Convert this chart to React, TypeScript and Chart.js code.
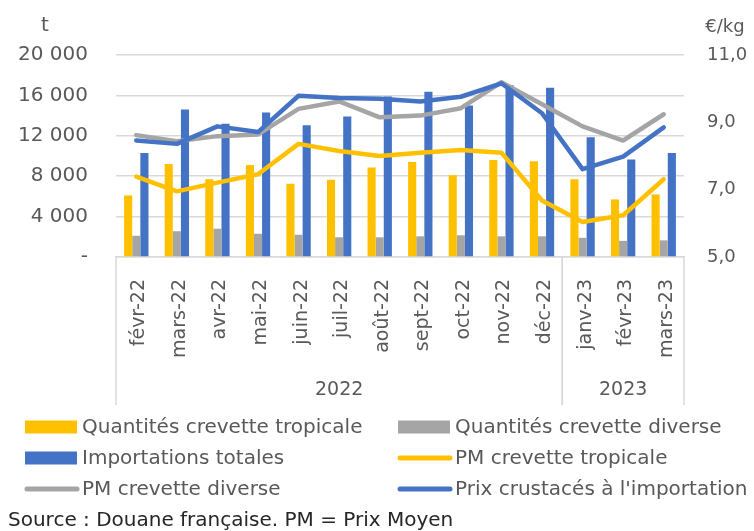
import React, { useEffect, useRef } from "react";
import { Chart, registerables } from "chart.js";

Chart.register(...registerables);

const months = ["févr-22", "mars-22", "avr-22", "mai-22", "juin-22", "juil-22", "août-22", "sept-22", "oct-22", "nov-22", "déc-22", "janv-23", "févr-23", "mars-23"];
const yearLabels = ["2022", "2023"];
const yearFirstIndex = [0, 11];
const yearLastIndex = [10, 13];

const qtyTropicale = [6100, 9200, 7700, 9100, 7250, 7650, 8850, 9400, 8100, 9600, 9480, 7700, 5700, 6200];
const qtyDiverse = [2100, 2550, 2800, 2300, 2200, 1950, 1950, 2050, 2150, 2050, 2050, 1900, 1600, 1650];
const importTotal = [10300, 14600, 13200, 14300, 13050, 13900, 15900, 16350, 15000, 17000, 16750, 11850, 9650, 10300];
const pmTropicale = [7.39, 6.95, 7.21, 7.46, 8.36, 8.15, 8.0, 8.1, 8.18, 8.1, 6.68, 6.04, 6.24, 7.31];
const pmDiverse = [8.62, 8.44, 8.59, 8.64, 9.4, 9.62, 9.15, 9.2, 9.42, 10.19, 9.54, 8.88, 8.46, 9.24];
const prixCrustaces = [8.46, 8.36, 8.88, 8.71, 9.79, 9.72, 9.7, 9.62, 9.76, 10.16, 9.27, 7.61, 7.98, 8.85];

const leftTitle = "t";
const rightTitle = "€/kg";
const sourceText = "Source : Douane française. PM = Prix Moyen";

const YELLOW = "#FFC000";
const GREY = "#A5A5A5";
const BLUE = "#4472C4";
const TEXT = "#595959";
const GRID = "#D9D9D9";
const FONT = '"DejaVu Sans"';

const legendOrder = [
  "Quantités crevette tropicale",
  "Quantités crevette diverse",
  "Importations totales",
  "PM crevette tropicale",
  "PM crevette diverse",
  "Prix crustacés à l'importation",
];

const extrasPlugin = {
  id: "extras",
  afterDraw(chart: any) {
    const ctx = chart.ctx as CanvasRenderingContext2D;
    const { left, right, bottom } = chart.chartArea;
    const x = chart.scales.x;
    ctx.save();
    const divBottom = 405;
    ctx.strokeStyle = GRID;
    ctx.lineWidth = 1.5;
    ctx.fillStyle = TEXT;
    ctx.font = `19px ${FONT}`;
    ctx.textAlign = "center";
    ctx.textBaseline = "middle";
    yearLabels.forEach((lab, i) => {
      const a = yearFirstIndex[i];
      const b = yearLastIndex[i];
      const start = a === 0 ? left : (x.getPixelForValue(a - 1) + x.getPixelForValue(a)) / 2;
      const end = b === months.length - 1 ? right : (x.getPixelForValue(b) + x.getPixelForValue(b + 1)) / 2;
      [start, end].forEach((px) => {
        ctx.beginPath();
        ctx.moveTo(px, bottom);
        ctx.lineTo(px, divBottom);
        ctx.stroke();
      });
      ctx.fillText(lab, (start + end) / 2, 390);
    });
    ctx.textBaseline = "alphabetic";
    ctx.font = `20px ${FONT}`;
    ctx.fillText(leftTitle, 45, 31);
    ctx.font = `18px ${FONT}`;
    ctx.fillText(rightTitle, 725, 32);
    const ds = chart.data.datasets;
    const colX = [25, 398];
    const rowY = [427, 458, 489];
    ctx.font = `20px ${FONT}`;
    ctx.textAlign = "left";
    ctx.textBaseline = "middle";
    legendOrder.forEach((name, k) => {
      const d = ds.find((e: any) => e.label === name);
      if (!d) return;
      const sx = colX[k % 2];
      const sy = rowY[Math.floor(k / 2)];
      if (d.type === "line") {
        ctx.strokeStyle = d.borderColor;
        ctx.lineWidth = 5;
        ctx.lineCap = "round";
        ctx.beginPath();
        ctx.moveTo(sx + 2, sy);
        ctx.lineTo(sx + 52, sy);
        ctx.stroke();
      } else {
        ctx.fillStyle = d.backgroundColor;
        ctx.fillRect(sx, sy - 6.5, 52, 13);
      }
      ctx.fillStyle = TEXT;
      ctx.fillText(d.label, sx + 57, sy + 1);
    });
    ctx.fillStyle = "#262626";
    ctx.fillText(sourceText, 8, 521);
    ctx.restore();
  },
};

export default function App() {
  const ref = useRef<HTMLCanvasElement | null>(null);
  useEffect(() => {
    if (!ref.current) return;
    const fmtT = (v: number) => (v === 0 ? "-" : Math.round(v).toString().replace(/\B(?=(\d{3})+(?!\d))/g, " "));
    const lineCommon = { type: "line", borderWidth: 4.5, pointRadius: 0, tension: 0, yAxisID: "y1", borderCapStyle: "round", borderJoinStyle: "round" };
    const barCommon = { type: "bar", yAxisID: "y", order: 10, categoryPercentage: 0.6, barPercentage: 1 };
    const chart = new Chart(ref.current, {
      type: "bar",
      data: {
        labels: months,
        datasets: [
          { ...barCommon, label: "Quantités crevette tropicale", data: qtyTropicale, backgroundColor: YELLOW },
          { ...barCommon, label: "Quantités crevette diverse", data: qtyDiverse, backgroundColor: GREY },
          { ...barCommon, label: "Importations totales", data: importTotal, backgroundColor: BLUE },
          { ...lineCommon, label: "PM crevette tropicale", data: pmTropicale, borderColor: YELLOW, backgroundColor: YELLOW, order: 3 },
          { ...lineCommon, label: "PM crevette diverse", data: pmDiverse, borderColor: GREY, backgroundColor: GREY, order: 2 },
          { ...lineCommon, label: "Prix crustacés à l'importation", data: prixCrustaces, borderColor: BLUE, backgroundColor: BLUE, order: 1 },
        ] as any,
      },
      options: {
        animation: false,
        responsive: true,
        maintainAspectRatio: false,
        layout: { padding: { top: 55, bottom: 126, left: 0, right: 0 } },
        plugins: { legend: { display: false }, tooltip: { enabled: false }, title: { display: false } },
        scales: {
          x: {
            grid: { display: false },
            border: { display: true, color: GRID, width: 1.5 },
            ticks: { autoSkip: false, minRotation: 90, maxRotation: 90, padding: 14, labelOffset: 3, color: TEXT, font: { family: FONT, size: 19 } },
            afterFit: (s: any) => { s.height = 148; },
          },
          y: {
            position: "left",
            min: 0,
            max: 20000,
            grid: { color: GRID, lineWidth: 1.5, drawTicks: false },
            border: { display: false },
            ticks: { stepSize: 4000, padding: 28, color: TEXT, font: { family: FONT, size: 20 }, callback: (v: any) => fmtT(Number(v)) },
            afterFit: (s: any) => { s.width = 116; },
          },
          y1: {
            position: "right",
            min: 5,
            max: 11,
            grid: { display: false, drawTicks: false },
            border: { display: false },
            ticks: { stepSize: 2, padding: 23, color: TEXT, font: { family: FONT, size: 18 }, callback: (v: any) => Number(v).toFixed(1).replace(".", ",") },
            afterFit: (s: any) => { s.width = 70; },
          },
        },
      } as any,
      plugins: [extrasPlugin],
    });
    return () => chart.destroy();
  }, []);
  return (
    <div style={{ position: "absolute", left: 0, top: 0, width: 754, height: 531, background: "#fff" }}>
      <canvas ref={ref} />
    </div>
  );
}
